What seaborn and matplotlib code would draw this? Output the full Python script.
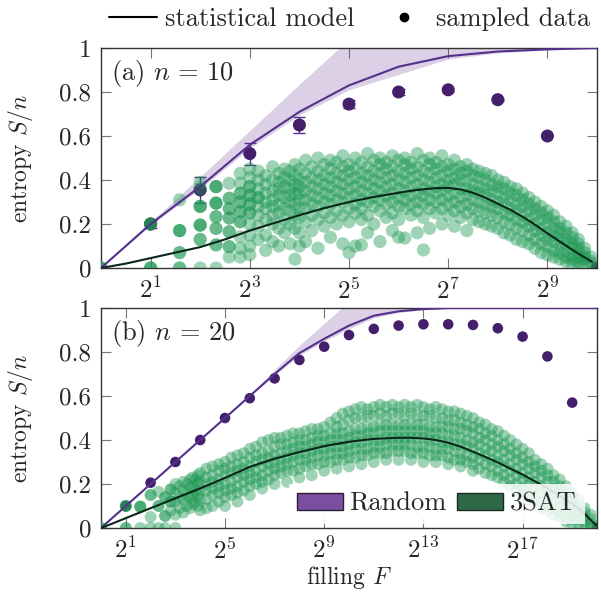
import numpy as np
import pandas as pd
import matplotlib
matplotlib.use("Agg")
import matplotlib.pyplot as plt
import seaborn as sns
from matplotlib.lines import Line2D
from matplotlib.patches import Patch

# ---------------------------------------------------------------- data
# ---- panel (a): n = 10  (x = log2 F)
rand10_logF = [0, 1, 2, 3, 4, 5, 6, 7, 8, 9, 10]
rand10_model = [0, 0.20, 0.37, 0.56, 0.71, 0.83, 0.915, 0.963, 0.984, 0.994, 1.0]
rand10_band_lo = [0, 0.195, 0.36, 0.545, 0.695, 0.81, 0.88, 0.95, 0.978, 0.99, 1.0]
rand10_band_hi = [0, 0.21, 0.415, 0.625, 0.835, 1.04, 1.1, 1.06, 1.02, 1.005, 1.0]
rand10_pts_logF = [1, 2, 3, 4, 5, 6, 7, 8, 9, 10]
rand10_pts_S = [0.20, 0.355, 0.52, 0.65, 0.745, 0.80, 0.81, 0.765, 0.60, 0.0]
rand10_pts_err = [0.02, 0.058, 0.05, 0.038, 0.018, 0.012, 0.008, 0.005, 0.005, 0.0]

sat10_model_logF = [0, 0.5, 1, 1.5, 2, 2.5, 3, 3.5, 4, 4.5, 5, 5.5, 6, 6.25, 6.5,
                    6.75, 7, 7.25, 7.5, 7.75, 8, 8.25, 8.5, 8.75, 9, 9.25, 9.5,
                    9.75, 9.9]
sat10_model_S = [0, 0.02, 0.045, 0.07, 0.095, 0.13, 0.17, 0.205, 0.24, 0.272,
                 0.30, 0.323, 0.342, 0.351, 0.358, 0.363, 0.364, 0.357, 0.342,
                 0.32, 0.292, 0.265, 0.233, 0.197, 0.158, 0.12, 0.083, 0.048,
                 0.028]

# small-F samples sit on discrete values; count = how many samples overlap
sat10_small_logF = [0, 1, 1, 1.585, 1.585, 1.585, 1.585,
                    2, 2, 2, 2, 2, 2,
                    2.32, 2.32, 2.32, 2.32, 2.32, 2.32,
                    2.585, 2.585, 2.585, 2.585, 2.585, 2.585, 2.585,
                    2.807, 2.807, 2.807, 2.807, 2.807, 2.807, 2.807, 2.807, 2.807,
                    3, 3, 3, 3, 3, 3, 3, 3, 3, 3,
                    3.17, 3.17, 3.17, 3.17, 3.17, 3.17, 3.17, 3.17,
                    3.32, 3.32, 3.32, 3.32, 3.32, 3.32, 3.32, 3.32,
                    3.46, 3.46, 3.46, 3.46, 3.46, 3.46, 3.46, 3.46,
                    3.585, 3.585, 3.585, 3.585, 3.585, 3.585, 3.585, 3.585,
                    3.70, 3.70, 3.70, 3.70, 3.70, 3.70, 3.70,
                    3.81, 3.81, 3.81, 3.81, 3.81, 3.81, 3.81, 3.81,
                    3.91, 3.91, 3.91, 3.91, 3.91, 3.91, 3.91, 3.91,
                    4, 4, 4, 4, 4, 4, 4, 4, 4]
sat10_small_S = [0, 0.20, 0.0, 0.31, 0.17, 0.07, 0.0,
                 0.39, 0.36, 0.28, 0.195, 0.13, 0.0,
                 0.37, 0.295, 0.233, 0.18, 0.105, 0.0,
                 0.385, 0.317, 0.27, 0.227, 0.165, 0.097, 0.05,
                 0.43, 0.385, 0.34, 0.30, 0.256, 0.21, 0.142, 0.09, 0.05,
                 0.45, 0.41, 0.37, 0.33, 0.29, 0.25, 0.20, 0.15, 0.10, 0.06,
                 0.44, 0.40, 0.36, 0.32, 0.28, 0.24, 0.19, 0.13,
                 0.42, 0.38, 0.34, 0.30, 0.27, 0.22, 0.15, 0.08,
                 0.46, 0.40, 0.35, 0.31, 0.28, 0.24, 0.20, 0.12,
                 0.43, 0.39, 0.36, 0.33, 0.29, 0.25, 0.18, 0.10,
                 0.45, 0.41, 0.37, 0.32, 0.27, 0.22, 0.16,
                 0.44, 0.40, 0.36, 0.33, 0.30, 0.26, 0.20, 0.11,
                 0.47, 0.42, 0.38, 0.34, 0.29, 0.24, 0.18, 0.04,
                 0.45, 0.40, 0.37, 0.34, 0.31, 0.27, 0.23, 0.16, 0.10]
sat10_small_count = [3, 3, 3, 1, 3, 2, 2,
                     1, 1, 3, 3, 2, 1,
                     3, 3, 2, 2, 2, 1,
                     1, 2, 2, 2, 2, 2, 1,
                     1, 1, 2, 2, 2, 2, 1, 1, 1,
                     1, 1, 2, 2, 2, 2, 1, 1, 1, 1,
                     1, 1, 1, 2, 1, 1, 1, 1,
                     1, 1, 1, 1, 1, 1, 1, 1,
                     1, 1, 1, 1, 1, 1, 1, 1,
                     1, 1, 1, 1, 1, 1, 1, 1,
                     1, 1, 1, 1, 1, 1, 1,
                     1, 1, 1, 1, 1, 1, 1, 1,
                     1, 1, 1, 1, 1, 1, 1, 1,
                     1, 1, 1, 1, 1, 1, 1, 1, 1]

sat10_cloud_logF = [4.125, 4.25, 4.375, 4.5, 4.625, 4.75, 4.875, 5.0, 5.125, 5.25,
                    5.375, 5.5, 5.625, 5.75, 5.875, 6.0, 6.125, 6.25, 6.375, 6.5,
                    6.625, 6.75, 6.875, 7.0, 7.125, 7.25, 7.375, 7.5, 7.625, 7.75,
                    7.875, 8.0, 8.125, 8.25, 8.375, 8.5, 8.625, 8.75, 8.875, 9.0,
                    9.125, 9.25, 9.375, 9.5, 9.625, 9.75, 9.875]
sat10_cloud_S = [
    [0.49, 0.43, 0.39, 0.35, 0.31, 0.27, 0.21, 0.12],
    [0.46, 0.41, 0.37, 0.33, 0.29, 0.24, 0.17],
    [0.50, 0.44, 0.40, 0.36, 0.32, 0.28, 0.22, 0.09],
    [0.47, 0.42, 0.38, 0.34, 0.30, 0.25, 0.19],
    [0.49, 0.45, 0.41, 0.37, 0.33, 0.29, 0.23, 0.14],
    [0.48, 0.43, 0.39, 0.35, 0.31, 0.26, 0.20],
    [0.51, 0.46, 0.42, 0.38, 0.34, 0.30, 0.24, 0.11],
    [0.47, 0.44, 0.40, 0.36, 0.32, 0.27, 0.21, 0.07],
    [0.50, 0.45, 0.41, 0.37, 0.33, 0.29, 0.25, 0.10],
    [0.48, 0.43, 0.39, 0.35, 0.31, 0.27, 0.22, 0.105],
    [0.52, 0.46, 0.42, 0.38, 0.34, 0.30, 0.24, 0.16],
    [0.49, 0.44, 0.40, 0.36, 0.32, 0.28, 0.20],
    [0.50, 0.47, 0.43, 0.39, 0.35, 0.31, 0.26, 0.12],
    [0.48, 0.45, 0.41, 0.37, 0.33, 0.29, 0.23],
    [0.51, 0.46, 0.42, 0.38, 0.34, 0.30, 0.25, 0.17],
    [0.49, 0.44, 0.40, 0.36, 0.32, 0.28, 0.22, 0.14],
    [0.50, 0.47, 0.43, 0.39, 0.35, 0.31, 0.27, 0.136],
    [0.48, 0.45, 0.41, 0.37, 0.33, 0.29, 0.24],
    [0.52, 0.46, 0.42, 0.38, 0.34, 0.30, 0.26, 0.16],
    [0.49, 0.44, 0.40, 0.36, 0.33, 0.29, 0.23, 0.082],
    [0.50, 0.47, 0.43, 0.39, 0.35, 0.31, 0.27, 0.18],
    [0.48, 0.45, 0.41, 0.37, 0.34, 0.30, 0.25],
    [0.51, 0.46, 0.42, 0.38, 0.35, 0.31, 0.27, 0.20],
    [0.47, 0.44, 0.40, 0.37, 0.33, 0.29, 0.24],
    [0.49, 0.45, 0.41, 0.38, 0.34, 0.30, 0.26, 0.19],
    [0.46, 0.43, 0.40, 0.36, 0.32, 0.28, 0.23],
    [0.47, 0.44, 0.40, 0.36, 0.33, 0.29, 0.25, 0.17],
    [0.45, 0.42, 0.38, 0.35, 0.31, 0.27, 0.22],
    [0.44, 0.41, 0.37, 0.34, 0.30, 0.26, 0.21],
    [0.43, 0.40, 0.36, 0.33, 0.29, 0.25, 0.20],
    [0.42, 0.38, 0.35, 0.31, 0.28, 0.24, 0.19],
    [0.40, 0.37, 0.34, 0.30, 0.27, 0.23, 0.18],
    [0.39, 0.36, 0.32, 0.29, 0.25, 0.21, 0.16],
    [0.37, 0.34, 0.31, 0.27, 0.24, 0.20, 0.15],
    [0.36, 0.33, 0.29, 0.26, 0.22, 0.18, 0.13],
    [0.34, 0.31, 0.28, 0.24, 0.21, 0.17, 0.12],
    [0.32, 0.29, 0.26, 0.22, 0.19, 0.15, 0.11],
    [0.30, 0.27, 0.24, 0.20, 0.17, 0.13, 0.09],
    [0.28, 0.25, 0.22, 0.18, 0.15, 0.11, 0.07],
    [0.26, 0.23, 0.20, 0.16, 0.13, 0.10, 0.06],
    [0.24, 0.21, 0.18, 0.15, 0.12, 0.08, 0.05],
    [0.21, 0.18, 0.16, 0.13, 0.10, 0.07, 0.04],
    [0.19, 0.16, 0.13, 0.11, 0.08, 0.05, 0.03],
    [0.16, 0.14, 0.11, 0.09, 0.06, 0.04, 0.02],
    [0.13, 0.11, 0.09, 0.07, 0.05, 0.03, 0.01],
    [0.09, 0.07, 0.05, 0.04, 0.02],
    [0.05, 0.03, 0.02],
]

# ---- panel (b): n = 20
rand20_logF = [0, 1, 2, 3, 4, 5, 6, 7, 8, 9, 10, 11, 12, 13, 14, 15, 16, 17, 18, 19, 20]
rand20_model = [0, 0.1, 0.2, 0.3, 0.4, 0.5, 0.6, 0.7, 0.795, 0.86, 0.92, 0.965,
                0.985, 0.995, 1, 1, 1, 1, 1, 1, 1]
rand20_band_lo = [0, 0.1, 0.2, 0.3, 0.4, 0.5, 0.6, 0.695, 0.785, 0.85, 0.905, 0.955,
                  0.98, 0.992, 0.998, 1, 1, 1, 1, 1, 1]
rand20_band_hi = [0, 0.1, 0.2, 0.3, 0.4, 0.5, 0.605, 0.72, 0.83, 0.93, 1.03, 1.05,
                  1.03, 1.01, 1.0, 1, 1, 1, 1, 1, 1]
rand20_pts_logF = [1, 2, 3, 4, 5, 6, 7, 8, 9, 10, 11, 12, 13, 14, 15, 16, 17, 18, 19, 20]
rand20_pts_S = [0.10, 0.206, 0.30, 0.40, 0.50, 0.59, 0.68, 0.764, 0.824, 0.877, 0.905,
                0.92, 0.926, 0.926, 0.923, 0.908, 0.87, 0.78, 0.57, 0.0]

sat20_model_logF = [0, 0.5, 1, 2, 3, 4, 5, 6, 7, 8, 9, 10, 11, 11.5, 12, 12.5, 13,
                    13.5, 14, 14.5, 15, 15.5, 16, 16.5, 17, 17.5, 18, 18.5, 19,
                    19.5, 19.8, 20]
sat20_model_S = [0, 0.022, 0.045, 0.09, 0.135, 0.18, 0.228, 0.278, 0.315, 0.345,
                 0.372, 0.392, 0.405, 0.408, 0.41, 0.41, 0.407, 0.40, 0.388, 0.37,
                 0.347, 0.323, 0.298, 0.27, 0.243, 0.212, 0.18, 0.145, 0.11,
                 0.065, 0.03, 0.01]

sat20_small_logF = [0, 1, 1, 1.585, 1.585, 2, 2, 2, 2.32, 2.32, 2.32,
                    2.585, 2.585, 2.585, 2.807, 2.807, 2.807,
                    3, 3, 3, 3, 3, 3.17, 3.17, 3.17,
                    3.32, 3.32, 3.32, 3.32, 3.46, 3.46, 3.46,
                    3.585, 3.585, 3.585, 3.585, 3.70, 3.70, 3.70, 3.70,
                    3.81, 3.81, 3.81, 3.91, 3.91, 3.91, 3.91,
                    4, 4, 4, 4, 4]
sat20_small_S = [0, 0.10, 0.0, 0.097, 0.0, 0.15, 0.05, 0.0, 0.165, 0.10, 0.0,
                 0.14, 0.055, 0.0, 0.175, 0.12, 0.08,
                 0.20, 0.16, 0.12, 0.06, 0.0, 0.19, 0.14, 0.09,
                 0.21, 0.17, 0.13, 0.07, 0.20, 0.15, 0.10,
                 0.22, 0.18, 0.14, 0.09, 0.23, 0.19, 0.15, 0.11,
                 0.22, 0.17, 0.12, 0.24, 0.20, 0.15, 0.10,
                 0.25, 0.21, 0.17, 0.13, 0.08]
sat20_small_count = [2, 3, 2, 3, 1, 2, 1, 1, 1, 2, 1,
                     2, 2, 1, 2, 2, 1,
                     1, 1, 1, 1, 1, 1, 1, 1,
                     1, 1, 1, 1, 1, 1, 1,
                     1, 1, 1, 1, 1, 1, 1, 1,
                     1, 1, 1, 1, 1, 1, 1,
                     1, 1, 1, 1, 1]

sat20_cloud_logF = [4.25, 4.5, 4.75, 5.0, 5.25, 5.5, 5.75, 6.0, 6.25, 6.5, 6.75,
                    7.0, 7.25, 7.5, 7.75, 8.0, 8.25, 8.5, 8.75, 9.0, 9.25, 9.5,
                    9.75, 10.0, 10.25, 10.5, 10.75, 11.0, 11.25, 11.5, 11.75,
                    12.0, 12.25, 12.5, 12.75, 13.0, 13.25, 13.5, 13.75, 14.0,
                    14.25, 14.5, 14.75, 15.0, 15.25, 15.5, 15.75, 16.0, 16.25,
                    16.5, 16.75, 17.0, 17.25, 17.5, 17.75, 18.0, 18.25, 18.5,
                    18.75, 19.0, 19.25, 19.5, 19.75, 20.0]
sat20_cloud_S = [
    [0.27, 0.23, 0.20, 0.17, 0.13, 0.09],
    [0.28, 0.24, 0.21, 0.18, 0.15, 0.10],
    [0.29, 0.26, 0.22, 0.19, 0.16, 0.12],
    [0.30, 0.27, 0.24, 0.20, 0.17, 0.14, 0.10],
    [0.32, 0.28, 0.25, 0.21, 0.18, 0.15],
    [0.33, 0.29, 0.26, 0.23, 0.19, 0.16, 0.12],
    [0.34, 0.30, 0.27, 0.24, 0.21, 0.17],
    [0.36, 0.32, 0.28, 0.25, 0.22, 0.19, 0.15],
    [0.37, 0.33, 0.30, 0.26, 0.23, 0.20],
    [0.39, 0.34, 0.31, 0.28, 0.24, 0.21, 0.18],
    [0.40, 0.35, 0.32, 0.29, 0.26, 0.22],
    [0.41, 0.37, 0.33, 0.30, 0.27, 0.24, 0.20],
    [0.41, 0.38, 0.34, 0.31, 0.28, 0.25],
    [0.42, 0.38, 0.35, 0.32, 0.29, 0.26, 0.21],
    [0.43, 0.39, 0.36, 0.33, 0.30, 0.26],
    [0.43, 0.40, 0.37, 0.34, 0.31, 0.27, 0.23],
    [0.44, 0.40, 0.37, 0.34, 0.31, 0.28],
    [0.45, 0.41, 0.38, 0.35, 0.32, 0.29, 0.24],
    [0.45, 0.42, 0.39, 0.36, 0.33, 0.29],
    [0.46, 0.42, 0.39, 0.36, 0.33, 0.30, 0.26],
    [0.48, 0.43, 0.40, 0.37, 0.34, 0.30],
    [0.50, 0.46, 0.43, 0.40, 0.37, 0.34, 0.31, 0.27],
    [0.52, 0.47, 0.43, 0.40, 0.37, 0.34, 0.31],
    [0.53, 0.49, 0.44, 0.41, 0.38, 0.35, 0.32, 0.28],
    [0.54, 0.50, 0.45, 0.42, 0.39, 0.36, 0.32],
    [0.55, 0.50, 0.45, 0.42, 0.39, 0.36, 0.33, 0.29],
    [0.54, 0.51, 0.46, 0.43, 0.40, 0.36, 0.33],
    [0.55, 0.51, 0.46, 0.43, 0.40, 0.37, 0.34, 0.30],
    [0.56, 0.52, 0.47, 0.44, 0.40, 0.37, 0.34],
    [0.55, 0.51, 0.47, 0.44, 0.41, 0.38, 0.34, 0.31],
    [0.56, 0.52, 0.47, 0.44, 0.41, 0.38, 0.35],
    [0.55, 0.52, 0.47, 0.44, 0.41, 0.38, 0.35, 0.31],
    [0.56, 0.51, 0.47, 0.44, 0.41, 0.38, 0.35],
    [0.55, 0.52, 0.47, 0.44, 0.41, 0.38, 0.34, 0.31],
    [0.56, 0.51, 0.47, 0.44, 0.41, 0.37, 0.34],
    [0.55, 0.51, 0.47, 0.44, 0.41, 0.37, 0.34, 0.30],
    [0.54, 0.51, 0.46, 0.43, 0.40, 0.37, 0.33],
    [0.55, 0.50, 0.46, 0.43, 0.40, 0.36, 0.33, 0.30],
    [0.54, 0.50, 0.46, 0.43, 0.39, 0.36, 0.33],
    [0.53, 0.49, 0.46, 0.42, 0.39, 0.36, 0.32, 0.29],
    [0.53, 0.49, 0.45, 0.42, 0.38, 0.35, 0.31],
    [0.52, 0.48, 0.45, 0.41, 0.38, 0.34, 0.31, 0.28],
    [0.51, 0.47, 0.44, 0.40, 0.37, 0.33, 0.30],
    [0.50, 0.46, 0.43, 0.39, 0.36, 0.32, 0.29, 0.26],
    [0.48, 0.45, 0.41, 0.38, 0.34, 0.31, 0.27],
    [0.47, 0.43, 0.40, 0.36, 0.33, 0.29, 0.25],
    [0.45, 0.42, 0.38, 0.35, 0.31, 0.28, 0.24],
    [0.44, 0.40, 0.37, 0.33, 0.30, 0.26, 0.23],
    [0.42, 0.38, 0.35, 0.31, 0.28, 0.24, 0.21],
    [0.40, 0.36, 0.33, 0.29, 0.26, 0.22, 0.19],
    [0.38, 0.34, 0.31, 0.27, 0.24, 0.20, 0.17],
    [0.36, 0.32, 0.29, 0.25, 0.22, 0.18, 0.15],
    [0.34, 0.30, 0.27, 0.23, 0.20, 0.16, 0.13],
    [0.31, 0.28, 0.25, 0.21, 0.18, 0.14, 0.11],
    [0.29, 0.26, 0.23, 0.19, 0.16, 0.12, 0.09],
    [0.27, 0.24, 0.21, 0.17, 0.14, 0.10, 0.08],
    [0.24, 0.21, 0.18, 0.15, 0.12, 0.09, 0.06],
    [0.22, 0.19, 0.16, 0.13, 0.10, 0.07, 0.05],
    [0.19, 0.16, 0.13, 0.11, 0.08, 0.05, 0.03],
    [0.16, 0.13, 0.11, 0.08, 0.06, 0.04, 0.02],
    [0.13, 0.10, 0.08, 0.06, 0.04, 0.02],
    [0.09, 0.07, 0.05, 0.03, 0.01],
    [0.06, 0.04, 0.02, 0.0],
    [0.01],
]

# tick labels
y_ticks = [0, 0.2, 0.4, 0.6, 0.8, 1.0]
y_ticklabels = ["0", "0.2", "0.4", "0.6", "0.8", "1"]
x_ticks_a = [1, 3, 5, 7, 9]
x_ticks_b = [1, 5, 9, 13, 17]

# ---------------------------------------------------------------- style
sns.set_style("ticks")
plt.rcParams["font.family"] = ["serif"]
plt.rcParams["font.serif"] = ["cmr10", "DejaVu Serif"]
plt.rcParams["mathtext.fontset"] = "cm"
plt.rcParams["axes.unicode_minus"] = False
plt.rcParams["axes.formatter.use_mathtext"] = True

FS = 18
PURPLE_LINE = "#55308d"
PURPLE_PT = "#44206c"
PURPLE_BAND = "#5b2d8e"
GREEN = "#1c9852"
BLACK_LINE = "#08271a"


def cloud_frame(small_x, small_y, small_n, cols_x, cols_y):
    xs, ys = [], []
    for x, y, n in zip(small_x, small_y, small_n):
        xs += [x] * n
        ys += [y] * n
    for x, col in zip(cols_x, cols_y):
        xs += [x] * len(col)
        ys += list(col)
    return pd.DataFrame({"logF": xs, "S": ys})


fig = plt.figure(figsize=(6.01, 6.0), dpi=100)
ax_a = fig.add_axes([101 / 601, 1 - 268 / 600, 496 / 601, 220 / 600])
ax_b = fig.add_axes([101 / 601, 1 - 528 / 600, 496 / 601, 220 / 600])

panels = [
    (ax_a, 10, rand10_logF, rand10_model, rand10_band_lo, rand10_band_hi,
     rand10_pts_logF, rand10_pts_S, rand10_pts_err,
     sat10_model_logF, sat10_model_S,
     cloud_frame(sat10_small_logF, sat10_small_S, sat10_small_count,
                 sat10_cloud_logF, sat10_cloud_S),
     x_ticks_a, "(a) $n\\,=\\,10$", 88, 90),
    (ax_b, 20, rand20_logF, rand20_model, rand20_band_lo, rand20_band_hi,
     rand20_pts_logF, rand20_pts_S, None,
     sat20_model_logF, sat20_model_S,
     cloud_frame(sat20_small_logF, sat20_small_S, sat20_small_count,
                 sat20_cloud_logF, sat20_cloud_S),
     x_ticks_b, "(b) $n\\,=\\,20$", 58, 74),
]

for (ax, n, rx, rm, rlo, rhi, px, py, perr, sx, sm, cloud,
     xt, label, psize, gsize) in panels:
    ax.fill_between(rx, rlo, rhi, color=PURPLE_BAND, alpha=0.22, lw=0, zorder=1)
    if perr is not None:
        ax.errorbar(px, py, yerr=perr, fmt="none", ecolor=PURPLE_LINE,
                    elinewidth=1.0, capsize=4, capthick=1.0, zorder=2)
    sns.scatterplot(x=px, y=py, ax=ax, color=PURPLE_PT, s=psize,
                    edgecolor="none", linewidth=0, zorder=2, legend=False)
    sns.scatterplot(data=cloud, x="logF", y="S", ax=ax, color=GREEN, s=gsize,
                    alpha=0.42, edgecolor="none", linewidth=0, zorder=3,
                    legend=False)
    sns.lineplot(x=rx, y=rm, ax=ax, color=PURPLE_LINE, lw=1.5, zorder=4,
                 estimator=None, sort=False, legend=False)
    sns.lineplot(x=sx, y=sm, ax=ax, color=BLACK_LINE, lw=1.5, zorder=4,
                 estimator=None, sort=False, legend=False)

    ax.set_xlim(0, n)
    ax.set_ylim(0, 1)
    ax.set_xticks(xt)
    ax.set_xticklabels([f"$2^{{{t}}}$" for t in xt])
    ax.set_yticks(y_ticks)
    ax.set_yticklabels(y_ticklabels)
    ax.tick_params(direction="in", top=True, right=True, length=7, width=0.8,
                   color="#777777", labelsize=FS, pad=7)
    for sp in ax.spines.values():
        sp.set_color("#333333")
        sp.set_linewidth(1.0)
    ax.set_xlabel("")
    ax.set_ylabel("entropy $S/n$", fontsize=FS - 1)
    ax.yaxis.set_label_coords(-0.133, 0.5)
    ax.text(0.02, 0.955, label, transform=ax.transAxes, fontsize=FS + 1,
            ha="left", va="top", zorder=6)

ax_b.set_xlabel("filling $F$", fontsize=FS - 1)
ax_b.xaxis.set_label_coords(0.5, -0.165)

# legend in panel (b)
leg_b = ax_b.legend(
    handles=[Patch(facecolor="#7a4f9f", edgecolor="#2a1f33", lw=1.0, label="Random"),
             Patch(facecolor="#2f6a46", edgecolor="#1b2a20", lw=1.0, label="3SAT")],
    loc="lower right", bbox_to_anchor=(0.975, 0.02), ncol=2, fontsize=FS + 1,
    frameon=True, fancybox=False, framealpha=0.85, edgecolor="none",
    handlelength=1.75, handleheight=0.6, handletextpad=0.25, columnspacing=0.4,
    borderpad=0.3, borderaxespad=0.0)
leg_b.set_zorder(7)

# top legend
fig.legend(
    handles=[Line2D([], [], color="black", lw=1.5, label="statistical model"),
             Line2D([], [], color="black", marker="o", ls="none", markersize=6,
                    label="sampled data")],
    loc="center", bbox_to_anchor=(0.582, 0.968), ncol=2, fontsize=FS + 1,
    frameon=False, handlelength=1.8, handletextpad=0.3, columnspacing=1.0)

fig.savefig("out.png", dpi=100)
